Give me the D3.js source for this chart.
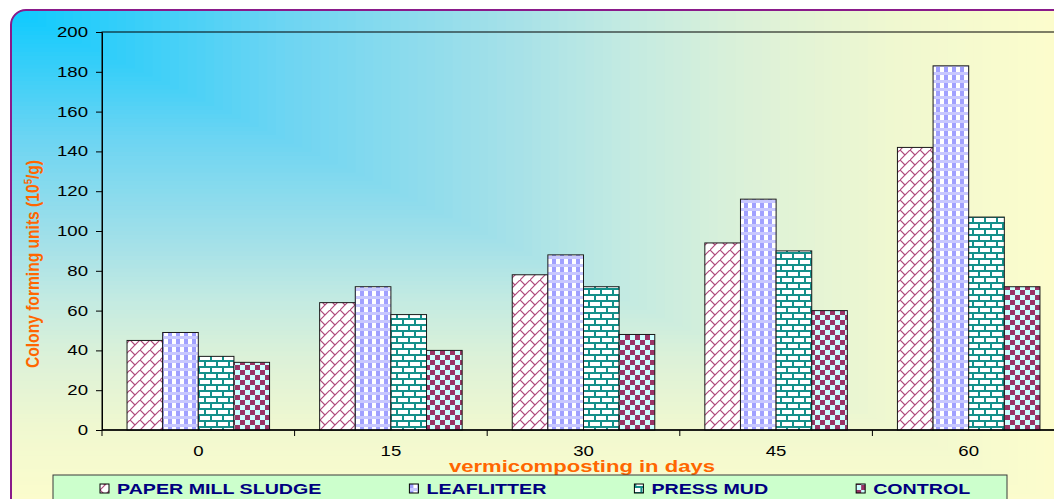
<!DOCTYPE html>
<html>
<head>
<meta charset="utf-8">
<script src="https://cdn.jsdelivr.net/npm/d3@7"></script>
<style>
  html, body { margin: 0; padding: 0; background: #fff; }
  text { font-family: "Liberation Sans", Arial, sans-serif; }
</style>
</head>
<body>
<div id="chart"></div>
<script>
const days = ["0", "15", "30", "45", "60"];
const seriesNames = ["PAPER MILL SLUDGE", "LEAFLITTER", "PRESS MUD", "CONTROL"];
const paperMillSludge = [45, 64, 78, 94, 142];
const leafLitter = [49, 72, 88, 116, 183];
const pressMud = [37, 58, 72, 90, 107];
const control = [34, 40, 48, 60, 72];
const yTicks = [0, 20, 40, 60, 80, 100, 120, 140, 160, 180, 200];

const series = [paperMillSludge, leafLitter, pressMud, control];

const width = 1054, height = 499;
const plot = { left: 102, top: 32, right: 1065, bottom: 430 };
const stretch = 1.33; // the original chart is widened horizontally

const svg = d3.select("#chart").append("svg")
  .attr("width", width).attr("height", height);

const defs = svg.append("defs");

// fill patterns
const p0 = defs.append("pattern").attr("id", "pat0").attr("patternUnits", "userSpaceOnUse")
  .attr("width", 10).attr("height", 10);
p0.append("rect").attr("width", 10).attr("height", 10).attr("fill", "#fff");
p0.append("path").attr("d", "M-1,11L11,-1M0,0L5,5").attr("stroke", "#b04a7c").attr("stroke-width", 1.2).attr("fill", "none");

const p1 = defs.append("pattern").attr("id", "pat1").attr("patternUnits", "userSpaceOnUse")
  .attr("width", 8).attr("height", 8);
p1.append("rect").attr("width", 8).attr("height", 8).attr("fill", "#fff");
p1.append("rect").attr("x", 0).attr("y", 0).attr("width", 4).attr("height", 8).attr("fill", "#a0a0ff");
p1.append("rect").attr("x", 0).attr("y", 0).attr("width", 8).attr("height", 3).attr("fill", "#c8c8ff");

const p2 = defs.append("pattern").attr("id", "pat2").attr("patternUnits", "userSpaceOnUse")
  .attr("width", 12).attr("height", 12);
p2.append("rect").attr("width", 12).attr("height", 12).attr("fill", "#fff");
p2.append("path").attr("d", "M0,1H12M0,7H12M1,1V7M7,7V13")
  .attr("stroke", "#14908a").attr("stroke-width", 2).attr("fill", "none");

const p3 = defs.append("pattern").attr("id", "pat3").attr("patternUnits", "userSpaceOnUse")
  .attr("width", 10).attr("height", 10);
p3.append("rect").attr("width", 10).attr("height", 10).attr("fill", "#ccffff");
p3.append("rect").attr("width", 5).attr("height", 5).attr("fill", "#993366");
p3.append("rect").attr("x", 5).attr("y", 5).attr("width", 5).attr("height", 5).attr("fill", "#993366");

// background: rectangular "from corner" gradient
const frame = { x: 11, y: 10, w: 1070, h: 510, r: 15 };
defs.append("clipPath").attr("id", "frameClip")
  .append("rect").attr("x", frame.x).attr("y", frame.y).attr("width", frame.w).attr("height", frame.h).attr("rx", frame.r);

const bgColor = d3.scaleLinear()
  .domain([0, 0.13, 0.27, 0.48, 0.58, 0.7, 0.84, 1])
  .range(["#0ccaff", "#3ccff8", "#6fd5f2", "#a6e1e8", "#c2eae2", "#dcf1d8", "#f0f8d0", "#fdfdcc"])
  .interpolate(d3.interpolateRgb);

const GW = 1060, GH = 500;
const bg = svg.append("g").attr("clip-path", "url(#frameClip)");
bg.selectAll("rect")
  .data(d3.range(120, -1, -1).map(i => i / 120))
  .join("rect")
  .attr("x", frame.x).attr("y", frame.y)
  .attr("width", t => Math.max(t * GW, 0.5) + (t === 1 ? 200 : 0))
  .attr("height", t => Math.max(t * GH, 0.5) + (t === 1 ? 200 : 0))
  .attr("fill", t => bgColor(t));

svg.append("rect")
  .attr("x", frame.x).attr("y", frame.y).attr("width", frame.w).attr("height", frame.h).attr("rx", frame.r)
  .attr("fill", "none").attr("stroke", "#8a1a8a").attr("stroke-width", 2);

// scales
const x = d3.scaleBand().domain(days).range([plot.left, plot.right]).paddingInner(0.26).paddingOuter(0.13);
const xs = d3.scaleBand().domain(d3.range(series.length)).range([0, x.bandwidth()]);
const y = d3.scaleLinear().domain([0, 200]).range([plot.bottom, plot.top]);

// plot frame
svg.append("rect")
  .attr("x", plot.left).attr("y", plot.top)
  .attr("width", plot.right - plot.left).attr("height", plot.bottom - plot.top)
  .attr("fill", "none").attr("stroke", "#000").attr("stroke-width", 1);

// bars
const groups = svg.append("g").selectAll("g")
  .data(series)
  .join("g")
  .attr("fill", (d, i) => `url(#pat${i})`);

groups.each(function (vals, si) {
  d3.select(this).selectAll("rect")
    .data(vals)
    .join("rect")
    .attr("x", (v, di) => x(days[di]) + xs(si))
    .attr("y", v => y(v))
    .attr("width", xs.bandwidth())
    .attr("height", v => y(0) - y(v))
    .attr("stroke", "#1a1a1a")
    .attr("stroke-width", 1);
});

// y axis
const yAxis = svg.append("g")
  .attr("transform", `translate(${plot.left},0)`)
  .call(d3.axisLeft(y).tickValues(yTicks).tickSize(6).tickSizeOuter(0));
yAxis.select(".domain").attr("stroke", "#000");
yAxis.selectAll(".tick line").attr("stroke", "#000");
yAxis.selectAll(".tick text")
  .attr("fill", "#000").attr("font-size", 14)
  .attr("font-family", "Liberation Sans, Arial, sans-serif")
  .attr("x", -14 / stretch)
  .attr("transform", `scale(${stretch},1)`);

// x axis line + ticks at category boundaries
svg.append("line")
  .attr("x1", plot.left).attr("x2", plot.right)
  .attr("y1", plot.bottom).attr("y2", plot.bottom)
  .attr("stroke", "#000").attr("stroke-width", 1.5);

const step = x.step();
const boundaries = d3.range(days.length + 1).map(i => x(days[0]) - step * x.paddingOuter() + i * step);
svg.append("g").selectAll("line")
  .data(boundaries)
  .join("line")
  .attr("x1", d => d).attr("x2", d => d)
  .attr("y1", plot.bottom).attr("y2", plot.bottom + 6)
  .attr("stroke", "#000");

const xAxis = svg.append("g")
  .attr("transform", `translate(0,${plot.bottom})`)
  .call(d3.axisBottom(x).tickSize(0).tickSizeOuter(0));
xAxis.select(".domain").remove();
xAxis.selectAll(".tick text")
  .attr("fill", "#000").attr("font-size", 14)
  .attr("font-family", "Liberation Sans, Arial, sans-serif")
  .attr("y", 26).attr("dy", 0)
  .attr("transform", `scale(${stretch},1)`);

// axis titles
svg.append("text")
  .attr("x", 582).attr("y", 472)
  .attr("text-anchor", "middle")
  .attr("fill", "#ff6600").attr("font-weight", "bold").attr("font-size", 16)
  .attr("textLength", 266).attr("lengthAdjust", "spacingAndGlyphs")
  .text("vermicomposting in days");

const yTitle = svg.append("text")
  .attr("transform", "translate(39,264) rotate(-90)")
  .attr("text-anchor", "middle")
  .attr("fill", "#ff6600").attr("font-weight", "bold").attr("font-size", 18)
  .attr("textLength", 208).attr("lengthAdjust", "spacingAndGlyphs");
yTitle.append("tspan").text("Colony forming units (10");
yTitle.append("tspan").attr("dy", -7).attr("font-size", 11).text("5");
yTitle.append("tspan").attr("dy", 7).text("/g)");

// legend
const legendBox = { x: 53, y: 475, w: 954, h: 40 };
svg.append("rect")
  .attr("x", legendBox.x).attr("y", legendBox.y)
  .attr("width", legendBox.w).attr("height", legendBox.h)
  .attr("fill", "#ccffcc").attr("stroke", "#3a3a3a").attr("stroke-width", 1);

const legendScale = 1.31;
const legend = svg.append("g");
let lx = 100;
seriesNames.forEach((name, i) => {
  const item = legend.append("g").attr("transform", `translate(${lx},0)`);
  item.append("rect")
    .attr("x", 0).attr("y", 484).attr("width", 9).attr("height", 9)
    .attr("fill", `url(#pat${i})`).attr("stroke", "#000").attr("stroke-width", 1);
  const t = item.append("g").attr("transform", "translate(17,494)")
    .append("text")
    .attr("transform", `scale(${legendScale},1)`)
    .attr("fill", "#000080").attr("font-weight", "bold").attr("font-size", 15)
    .text(name);
  const w = t.node().getComputedTextLength() * legendScale;
  lx += 17 + w + 88;
});
</script>
</body>
</html>
